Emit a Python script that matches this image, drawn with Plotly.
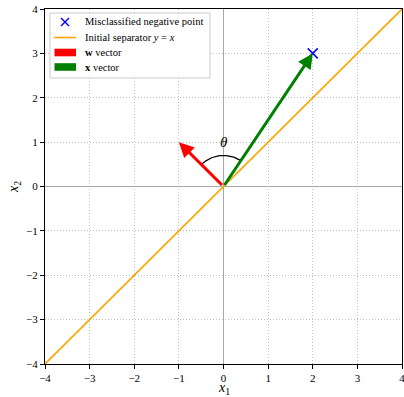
import numpy as np
import plotly.graph_objects as go

# Data
w_vec = [-1, 1]
x_vec = [2, 3]
point = [2, 3]
sep_x = [-4, 4]
sep_y = [-4, 4]
ticks = [-4, -3, -2, -1, 0, 1, 2, 3, 4]
tick_labels = ["\u22124", "\u22123", "\u22122", "\u22121", "0", "1", "2", "3", "4"]
legend_labels = ["Misclassified negative point", "Initial separator <i>y</i> = <i>x</i>",
                 "<b>w</b> vector", "<b>x</b> vector"]
arc_radius = 0.7

FONT = "Liberation Serif"
W, H = 404, 397
ML, MR, MT, MB = 45, 2, 9, 33
PW, PH = W - ML - MR, H - MT - MB

fig = go.Figure()

# separator line
fig.add_trace(go.Scatter(x=sep_x, y=sep_y, mode="lines",
                         line=dict(color="#FFA500", width=1.6), showlegend=False,
                         name="Initial separator"))

# arc for theta
a1 = np.arctan2(x_vec[1], x_vec[0])
a2 = np.arctan2(w_vec[1], w_vec[0])
t = np.linspace(a1, a2, 60)
fig.add_trace(go.Scatter(x=arc_radius * np.cos(t), y=arc_radius * np.sin(t),
                         mode="lines", line=dict(color="black", width=1.2),
                         showlegend=False, hoverinfo="skip"))

# misclassified point
fig.add_trace(go.Scatter(x=[point[0]], y=[point[1]], mode="markers",
                         marker=dict(symbol="x-thin", size=10, color="blue",
                                     line=dict(color="blue", width=1.5)),
                         showlegend=False, name="Misclassified negative point"))

# arrows
for vec, col in [(w_vec, "red"), (x_vec, "green")]:
    fig.add_annotation(x=vec[0], y=vec[1], ax=0, ay=0, xref="x", yref="y",
                       axref="x", ayref="y", showarrow=True, arrowhead=2,
                       arrowsize=1.0, arrowwidth=3, arrowcolor=col, text="",
                       standoff=0, startstandoff=0)

# theta label
mid = (a1 + a2) / 2
fig.add_annotation(x=1.0 * np.cos(mid) + 0.1, y=1.0 * np.sin(mid), text="<i>θ</i>",
                   showarrow=False, font=dict(family=FONT, size=15, color="black"))

# ---- manual legend (matplotlib style) ----
def px(xp):
    return (xp - ML) / PW


def py(yp):
    return 1 - (yp - MT) / PH


shapes = []
shapes.append(dict(type="rect", xref="paper", yref="paper",
                   x0=px(50), x1=px(210), y0=py(78), y1=py(13),
                   line=dict(color="#cccccc", width=1), fillcolor="rgba(255,255,255,0.9)",
                   layer="above"))
rows = [22, 37.5, 52.5, 67]
# X marker icon
cx, cy, hs = 65, rows[0], 4
shapes.append(dict(type="line", xref="paper", yref="paper", x0=px(cx - hs), x1=px(cx + hs),
                   y0=py(cy - hs), y1=py(cy + hs), line=dict(color="blue", width=1.5), layer="above"))
shapes.append(dict(type="line", xref="paper", yref="paper", x0=px(cx - hs), x1=px(cx + hs),
                   y0=py(cy + hs), y1=py(cy - hs), line=dict(color="blue", width=1.5), layer="above"))
# orange line icon
shapes.append(dict(type="line", xref="paper", yref="paper", x0=px(54), x1=px(76),
                   y0=py(rows[1]), y1=py(rows[1]), line=dict(color="#FFA500", width=1.6),
                   layer="above"))
# patches
for r, col in [(rows[2], "red"), (rows[3], "green")]:
    shapes.append(dict(type="rect", xref="paper", yref="paper", x0=px(54.5), x1=px(76),
                       y0=py(r + 3.8), y1=py(r - 3.8), line=dict(width=0), fillcolor=col,
                       layer="above"))
for r, lab in zip(rows, legend_labels):
    fig.add_annotation(xref="paper", yref="paper", x=px(83), y=py(r), text=lab,
                       xanchor="left", yanchor="middle", showarrow=False,
                       font=dict(family=FONT, size=10.5, color="black"))

# x-axis title as annotation (placed lower, as in the reference)
fig.add_annotation(xref="paper", yref="paper", x=0.5, y=py(389), text="<i>x</i><sub>1</sub>",
                   xanchor="center", yanchor="middle", showarrow=False,
                   font=dict(family=FONT, size=14, color="black"))

axis_common = dict(range=[-4, 4], tickvals=ticks, ticktext=tick_labels,
                   showgrid=True, gridcolor="#c0c0c0", griddash="1px,2px", gridwidth=1,
                   zeroline=True, zerolinecolor="#a8a8a8", zerolinewidth=1,
                   showline=True, mirror=True, linecolor="black", linewidth=1,
                   ticks="outside", ticklen=4, tickcolor="black", automargin=False,
                   ticklabeloverflow="allow",
                   tickfont=dict(family=FONT, size=11, color="black"))

fig.update_xaxes(**axis_common)
fig.update_yaxes(**axis_common,
                 title=dict(text="<i>x</i><sub>2</sub>", standoff=4,
                            font=dict(family=FONT, size=14, color="black")))

fig.update_layout(
    width=W, height=H,
    margin=dict(l=ML, r=MR, t=MT, b=MB, autoexpand=False),
    plot_bgcolor="white", paper_bgcolor="white",
    shapes=shapes,
    showlegend=False,
)

fig.write_html("out.html", config={"displayModeBar": False},
               post_script="document.body.style.margin='0';document.body.style.overflow='hidden';")
